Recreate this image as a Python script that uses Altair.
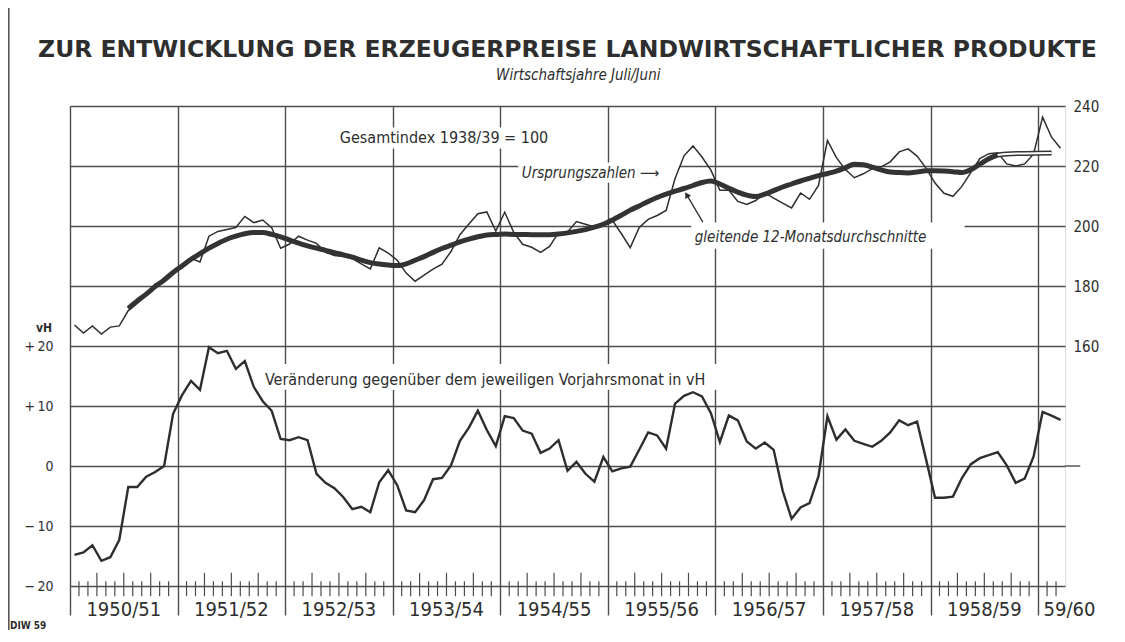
import altair as alt
import pandas as pd

# ---------------- data ----------------
months = list(range(111))  # 0 = July 1950 ... 110 = Sept 1959

# Gesamtindex 1938/39 = 100, Ursprungszahlen (monthly)
ursprung = [
    167.0, 164.3, 166.7, 164.0, 166.3, 166.7, 171.8, 174.3, 177.3, 180.7, 181.7, 184.4,
    186.7, 189.2, 188.0, 196.6, 198.2, 198.8, 199.5, 203.2, 201.1, 202.0, 199.4, 192.6,
    194.0, 196.6, 195.3, 194.2, 191.2, 190.2, 189.8, 189.1, 187.4, 185.7, 192.7, 191.0,
    188.6, 184.3, 181.6, 183.6, 185.6, 187.3, 191.5, 197.1, 200.7, 204.1, 204.7, 198.3,
    204.6, 197.9, 193.9, 192.9, 191.2, 193.2, 197.8, 198.0, 201.5, 200.6, 199.7, 200.7,
    201.9, 197.5, 192.8, 199.5, 202.2, 203.5, 205.2, 215.8, 223.4, 226.7, 223.0, 218.6,
    211.9, 211.9, 208.2, 207.2, 208.5, 211.1, 209.3, 207.6, 206.0, 211.0, 208.9, 213.5,
    228.5, 222.8, 218.8, 216.1, 217.4, 219.1, 219.7, 221.4, 224.7, 225.7, 223.3, 219.3,
    214.3, 210.9, 209.9, 213.2, 217.9, 222.5, 224.1, 224.4, 220.7, 220.0, 220.7, 224.0,
    236.3, 229.6, 225.9,
]

# Veraenderung gegenueber dem Vorjahrsmonat in vH
veraenderung = [
    -14.8, -14.4, -13.2, -15.8, -15.2, -12.3, -3.5, -3.5, -1.8, -1.0, 0.0, 8.7,
    11.8, 14.2, 12.7, 19.8, 18.8, 19.2, 16.2, 17.5, 13.2, 10.8, 9.2, 4.5,
    4.3, 4.8, 4.3, -1.3, -2.8, -3.7, -5.2, -7.2, -6.8, -7.7, -2.7, -0.7,
    -3.2, -7.4, -7.7, -5.7, -2.2, -2.0, 0.1, 4.2, 6.4, 9.2, 6.0, 3.3,
    8.3, 8.0, 5.9, 5.4, 2.2, 2.9, 4.3, -0.8, 0.7, -1.3, -2.6, 1.5,
    -0.9, -0.4, -0.1, 2.7, 5.6, 5.1, 2.9, 10.4, 11.7, 12.3, 11.6, 8.8,
    4.0, 8.4, 7.6, 4.1, 2.9, 3.9, 2.7, -4.1, -8.8, -6.9, -6.2, -1.7,
    8.3, 4.4, 6.1, 4.2, 3.7, 3.2, 4.2, 5.6, 7.6, 6.8, 7.4, 1.1,
    -5.3, -5.3, -5.1, -2.0, 0.3, 1.3, 1.8, 2.3, 0.1, -2.8, -2.1, 1.6,
    9.0, 8.4, 7.7,
]

# gleitende 12-Monatsdurchschnitte
ma_months = list(range(6, 104))
ma_values = [
    172.5, 175.0, 177.3, 179.8, 182.0, 184.5,
    186.7, 188.9, 190.8, 192.6, 194.2, 195.6, 196.6, 197.4, 197.8, 197.8, 197.2, 196.4,
    195.3, 194.3, 193.4, 192.6, 191.9, 191.1, 190.4, 189.6, 188.6, 187.8, 187.3, 187.0,
    186.8, 187.4, 188.6, 189.8, 191.2, 192.5, 193.6, 194.7, 195.6, 196.4, 197.0, 197.2,
    197.3, 197.2, 197.2, 197.1, 197.1, 197.1, 197.3, 197.7, 198.2, 198.8, 199.6, 200.6,
    202.0, 203.6, 205.3, 206.7, 208.2, 209.5, 210.6, 211.6, 212.5, 213.5, 214.5, 215.0,
    214.0, 212.6, 211.3, 210.3, 209.8, 210.6, 211.8, 213.0, 214.0, 215.0, 215.9, 216.8,
    217.5, 218.3, 219.4, 220.6, 220.4, 219.6, 218.7, 218.0, 217.8, 217.7, 218.0, 218.4,
    218.4, 218.3, 218.1, 217.8, 218.8, 220.6, 222.4, 223.7,
]
# vorlaeufige (hohl gezeichnete) Fortsetzung
prov_months = [103, 104, 106, 109]
prov_values = [223.7, 224.0, 224.2, 224.3]

year_labels = ["1950/51", "1951/52", "1952/53", "1953/54", "1954/55",
               "1955/56", "1956/57", "1957/58", "1958/59", "59/60"]
left_ticks = [-20, -10, 0, 10, 20]
right_ticks = [160, 180, 200, 220, 240]

title_text = "ZUR ENTWICKLUNG DER ERZEUGERPREISE LANDWIRTSCHAFTLICHER PRODUKTE"
subtitle_text = "Wirtschaftsjahre Juli/Juni"

# ---------------- styling ----------------
FONT = "DejaVu Sans Condensed, Liberation Sans Narrow, DejaVu Sans"
TFONT = "DejaVu Sans"
INK = "#2e2e2e"
GRID = "#4d4d4d"

W, H = 995, 480
XS = alt.Scale(domain=[0, 111], nice=False, zero=False)
YV = alt.Scale(domain=[-20, 60], nice=False, zero=False)
YI = alt.Scale(domain=[80, 240], nice=False, zero=False)

x_axis = alt.Axis(values=list(range(0, 109, 12)), grid=True, gridColor=GRID, gridWidth=1.4,
                  ticks=True, tickSize=29, tickColor=GRID, tickWidth=1.4,
                  labels=False, domain=False, title=None)
v_axis = alt.Axis(values=list(range(-20, 61, 10)), grid=True, gridColor=GRID, gridWidth=1.4,
                  ticks=False, domain=False, title=None, labelPadding=17,
                  labelFont=FONT, labelFontSize=14, labelColor=INK,
                  labelExpr="datum.value > 20 ? '' : datum.value > 0 ? '+\u2009' + datum.value : "
                            "datum.value < 0 ? '\u2212\u2009' + abs(datum.value) : '0'")
i_axis = alt.Axis(orient="right", values=right_ticks, grid=False, ticks=False, domain=False,
                  title=None, labelPadding=8, labelFont=FONT, labelFontSize=15, labelColor=INK)

xe = alt.X("t:Q", scale=XS, axis=x_axis)
ye = alt.Y("v:Q", scale=YV, axis=v_axis)
ie = alt.Y("w:Q", scale=YI, axis=i_axis)

vh_df = pd.DataFrame({"t": [m + 0.5 for m in months], "v": veraenderung})
ur_df = pd.DataFrame({"t": [m + 0.5 for m in months], "w": ursprung})
ma_df = pd.DataFrame({"t": [m + 0.5 for m in ma_months], "w": ma_values})
pr_df = pd.DataFrame({"t": [m + 0.5 for m in prov_months], "w": prov_values})

# month tick marks on the time axis
tick_rows = [{"t": m, "v": -21.7, "v2": (-17.8 if m % 3 == 0 else -19.2)}
             for m in months[1:] if m % 12 != 0]
ticks_df = pd.DataFrame(tick_rows)

# white backgrounds behind annotations (interrupt the grid like the original)
bg_df = pd.DataFrame({
    "t": [29.7, 50.0, 69.3, 21.4],
    "t2": [54.6, 68.0, 99.8, 74.3],
    "v": [52.9, 47.2, 36.2, 12.7],
    "v2": [56.4, 50.6, 40.6, 17.0],
})

year_df = pd.DataFrame({
    "t": [12 * k + 6 for k in range(9)] + [111.5],
    "v": [-24.0] * 10,
    "label": year_labels,
})

normal_txt = pd.DataFrame({
    "t": [30.1, 21.75],
    "v": [54.6, 14.4],
    "label": ["Gesamtindex 1938/39 = 100",
              "Veränderung gegenüber dem jeweiligen Vorjahrsmonat in vH"],
})
italic_txt = pd.DataFrame({
    "t": [50.4, 69.7],
    "v": [48.8, 38.1],
    "label": ["Ursprungszahlen \u27f6", "gleitende 12-Monatsdurchschnitte"],
})

bg = alt.Chart(bg_df).mark_rect(color="white").encode(x=xe, x2="t2:Q", y=ye, y2="v2:Q")
ticks = alt.Chart(ticks_df).mark_rule(color=GRID, strokeWidth=1.2).encode(x=xe, y=ye, y2="v2:Q")
zero_ext = alt.Chart(pd.DataFrame({"t": [111], "t2": [112.7], "v": [0]})).mark_rule(
    color=GRID, strokeWidth=1.4).encode(x=xe, x2="t2:Q", y=ye)
vh_line = alt.Chart(vh_df).mark_line(color=INK, strokeWidth=2.4, strokeJoin="miter").encode(x=xe, y=ye)
years = alt.Chart(year_df).mark_text(font=FONT, fontSize=20, color=INK, baseline="middle").encode(
    x=xe, y=ye, text="label:N")
ntext = alt.Chart(normal_txt).mark_text(font=FONT, fontSize=16, color=INK, align="left",
                                        baseline="middle").encode(x=xe, y=ye, text="label:N")
itext = alt.Chart(italic_txt).mark_text(font=FONT, fontSize=15, fontStyle="italic", color=INK,
                                        align="left", baseline="middle").encode(x=xe, y=ye, text="label:N")
vh_lab = alt.Chart(pd.DataFrame({"t": [-2.9], "v": [23.0], "label": ["vH"]})).mark_text(
    font=FONT, fontSize=12, fontWeight="bold", color=INK).encode(x=xe, y=ye, text="label:N")
diw = alt.Chart(pd.DataFrame({"t": [-6.7], "v": [-26.6], "label": ["DIW 59"]})).mark_text(
    font=FONT, fontSize=10, fontWeight="bold", color=INK, align="left").encode(x=xe, y=ye, text="label:N")
edge = alt.Chart(pd.DataFrame({"t": [-6.85], "v": [78.0], "v2": [-27.5]})).mark_rule(
    color="#555555", strokeWidth=2).encode(x=xe, y=ye, y2="v2:Q")
title = alt.Chart(pd.DataFrame({"t": [55.5], "v": [69.3], "label": [title_text]})).mark_text(
    font=TFONT, fontSize=23.5, fontWeight="bold", color=INK, baseline="middle").encode(
    x=xe, y=ye, text="label:N")
subtitle = alt.Chart(pd.DataFrame({"t": [56.7], "v": [65.1], "label": [subtitle_text]})).mark_text(
    font=FONT, fontSize=15, fontStyle="italic", color=INK, baseline="middle").encode(
    x=xe, y=ye, text="label:N")

vh_group = alt.layer(bg, ticks, zero_ext, vh_line, years, ntext, itext, vh_lab, diw, edge,
                     title, subtitle)

ur_line = alt.Chart(ur_df).mark_line(color=INK, strokeWidth=1.5).encode(x=xe, y=ie)
ma_line = alt.Chart(ma_df).mark_line(color="#333333", strokeWidth=5, interpolate="monotone").encode(x=xe, y=ie)
pr_out = alt.Chart(pr_df).mark_line(color="#333333", strokeWidth=5, interpolate="monotone").encode(x=xe, y=ie)
pr_in = alt.Chart(pr_df).mark_line(color="white", strokeWidth=2, interpolate="monotone").encode(x=xe, y=ie)
arrow_df = pd.DataFrame({"t": [70.6], "w": [201.3], "t2": [68.8], "w2": [210.4]})
arrow = alt.Chart(arrow_df).mark_rule(color=INK, strokeWidth=1.3).encode(x=xe, x2="t2:Q", y=ie, y2="w2:Q")
head = alt.Chart(arrow_df).mark_point(shape="triangle-up", filled=True, size=45, angle=330,
                                      color=INK, opacity=1).encode(
    x=alt.X("t2:Q", scale=XS, axis=x_axis), y=alt.Y("w2:Q", scale=YI, axis=i_axis))

idx_group = alt.layer(ur_line, ma_line, pr_out, pr_in, arrow, head)

chart = alt.layer(vh_group, idx_group).resolve_scale(y="independent").properties(
    width=W, height=H,
    autosize=alt.AutoSizeParams(type="none"),
    padding={"left": 62, "top": 98, "right": 52, "bottom": 44},
).configure_view(stroke=GRID, strokeWidth=1.5).configure(background="white")

chart.save("out.html", embed_options={"renderer": "svg", "actions": False})
